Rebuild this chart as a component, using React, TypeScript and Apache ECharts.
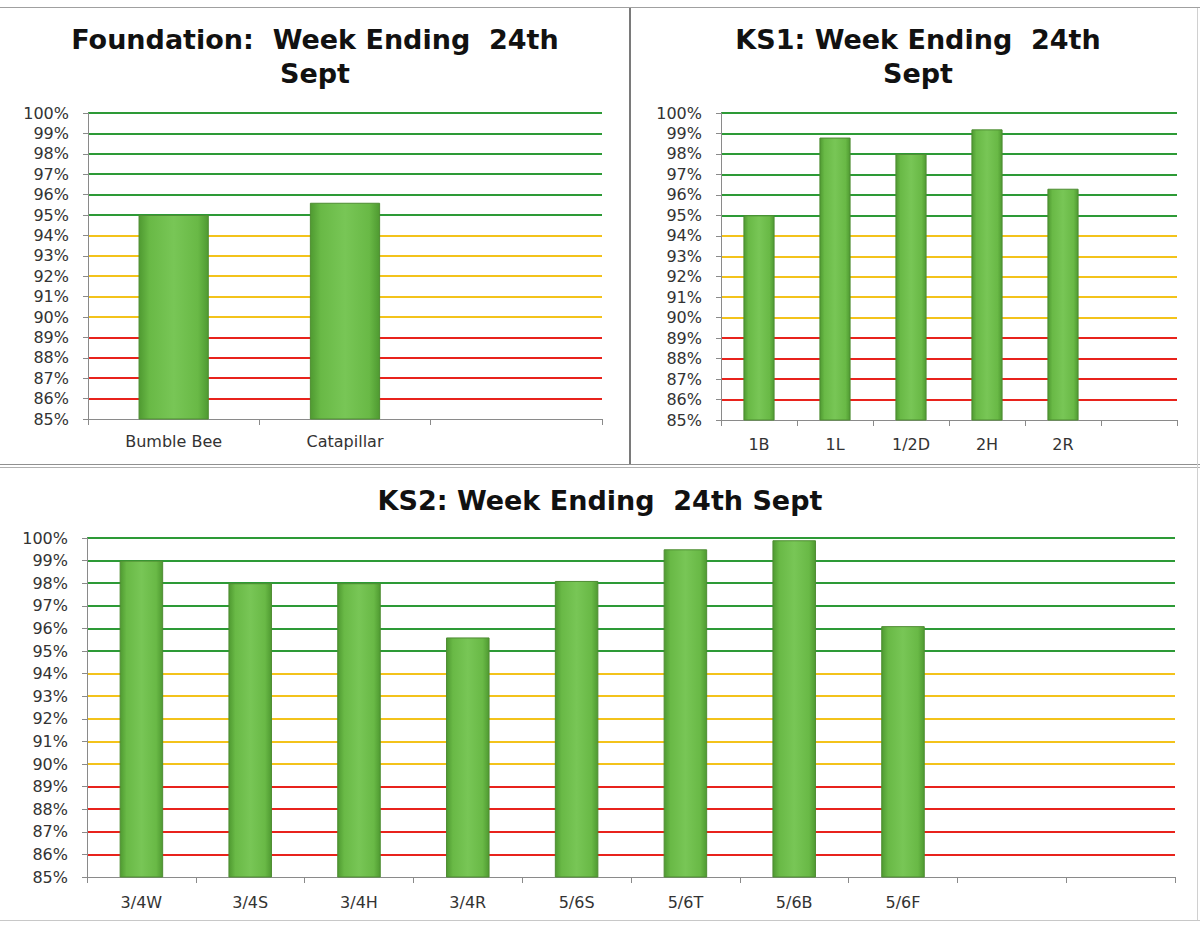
import React, { useEffect, useRef } from "react";
import * as echarts from "echarts";

// ---- data ----
const foundationTitle = "Foundation:  Week Ending  24th\nSept";
const foundationCategories = ["Bumble Bee", "Catapillar", ""];
const foundationValues = [95.0, 95.6];

const ks1Title = "KS1: Week Ending  24th\nSept";
const ks1Categories = ["1B", "1L", "1/2D", "2H", "2R", ""];
const ks1Values = [95.0, 98.8, 98.0, 99.2, 96.3];

const ks2Title = "KS2: Week Ending  24th Sept";
const ks2Categories = ["3/4W", "3/4S", "3/4H", "3/4R", "5/6S", "5/6T", "5/6B", "5/6F", "", ""];
const ks2Values = [99.0, 98.0, 98.0, 95.6, 98.1, 99.5, 99.9, 96.1];

// y axis range (percent) and colour bands for the grid lines
const yMin = 85;
const yMax = 100;
const yStep = 1;
const redFrom = 86;
const yellowFrom = 90;
const greenFrom = 95;

const RED = "#e8231c";
const YELLOW = "#f3c31b";
const GREEN = "#2d9a36";

function gridLineColors(): string[] {
  const out: string[] = [];
  for (let v = yMin; v <= yMax; v += yStep) {
    if (v < redFrom) out.push("rgba(0,0,0,0)");
    else if (v < yellowFrom) out.push(RED);
    else if (v < greenFrom) out.push(YELLOW);
    else out.push(GREEN);
  }
  return out;
}

const FONT = "DejaVu Sans";

const barColor = new echarts.graphic.LinearGradient(0, 0, 1, 0, [
  { offset: 0, color: "#4f9a31" },
  { offset: 0.15, color: "#69b946" },
  { offset: 0.5, color: "#78c656" },
  { offset: 0.85, color: "#69b946" },
  { offset: 1, color: "#4f9a31" },
]);

export default function App() {
  const ref = useRef<HTMLDivElement>(null);

  useEffect(() => {
    if (!ref.current) return;
    const chart = echarts.init(ref.current, undefined, { renderer: "svg" });

    const grids = [
      { left: 88, top: 113, width: 514, height: 306 },
      { left: 721, top: 113, width: 456, height: 307 },
      { left: 87, top: 538, width: 1088, height: 339 },
    ];
    const cats = [foundationCategories, ks1Categories, ks2Categories];
    const vals = [foundationValues, ks1Values, ks2Values];
    const barWidths = ["41%", "41%", "40%"];
    const labelMargins = [14, 16, 17];

    const xAxis = cats.map((c, i) => ({
      type: "category",
      gridIndex: i,
      data: c,
      boundaryGap: true,
      axisLine: { show: true, lineStyle: { color: "#8a8a8a", width: 1 } },
      axisTick: { show: true, alignWithLabel: false, length: 6, lineStyle: { color: "#8a8a8a" } },
      axisLabel: {
        interval: 0,
        margin: labelMargins[i],
        color: "#333333",
        fontFamily: FONT,
        fontSize: 16,
      },
      splitLine: { show: false },
    }));

    const yAxis = cats.map((_, i) => ({
      type: "value",
      gridIndex: i,
      min: yMin,
      max: yMax,
      interval: yStep,
      axisLine: { show: true, lineStyle: { color: "#8a8a8a", width: 1 } },
      axisTick: { show: true, length: 5, lineStyle: { color: "#8a8a8a" } },
      axisLabel: {
        formatter: "{value}%",
        margin: 19,
        color: "#333333",
        fontFamily: FONT,
        fontSize: 16,
      },
      splitLine: { show: true, lineStyle: { color: gridLineColors(), width: 2 } },
    }));

    const series = vals.map((v, i) => ({
      type: "bar",
      xAxisIndex: i,
      yAxisIndex: i,
      data: v,
      barWidth: barWidths[i],
      itemStyle: { color: barColor, borderColor: "#4e8c32", borderWidth: 1 },
      z: 3,
    }));

    const titleFont = `bold 27px "${FONT}"`;

    chart.setOption({
      animation: false,
      backgroundColor: "#ffffff",
      grid: grids,
      xAxis,
      yAxis,
      series,
      graphic: [
        {
          type: "text",
          x: 315,
          y: 22,
          style: { text: foundationTitle, font: titleFont, fill: "#111", textAlign: "center", textVerticalAlign: "top", lineHeight: 34 },
        },
        {
          type: "text",
          x: 918,
          y: 22,
          style: { text: ks1Title, font: titleFont, fill: "#111", textAlign: "center", textVerticalAlign: "top", lineHeight: 34 },
        },
        {
          type: "text",
          x: 600,
          y: 483,
          style: { text: ks2Title, font: titleFont, fill: "#111", textAlign: "center", textVerticalAlign: "top", lineHeight: 34 },
        },
        { type: "line", shape: { x1: 0, y1: 7.5, x2: 1200, y2: 7.5 }, style: { stroke: "#a0a0a0", lineWidth: 1 } },
        { type: "line", shape: { x1: 630, y1: 8, x2: 630, y2: 464 }, style: { stroke: "#7a7a7a", lineWidth: 2 } },
        { type: "line", shape: { x1: 0, y1: 464.5, x2: 1200, y2: 464.5 }, style: { stroke: "#909090", lineWidth: 1 } },
        { type: "line", shape: { x1: 0, y1: 467.5, x2: 1200, y2: 467.5 }, style: { stroke: "#b0b0b0", lineWidth: 1 } },
        { type: "line", shape: { x1: 1197.5, y1: 8, x2: 1197.5, y2: 920 }, style: { stroke: "#d0d0d0", lineWidth: 1 } },
        { type: "line", shape: { x1: 0, y1: 920.5, x2: 1200, y2: 920.5 }, style: { stroke: "#c8c8c8", lineWidth: 1 } },
      ],
    });

    return () => {
      chart.dispose();
    };
  }, []);

  return (
    <div
      ref={ref}
      style={{ position: "fixed", left: 0, top: 0, width: 1200, height: 926, background: "#fff" }}
    />
  );
}
